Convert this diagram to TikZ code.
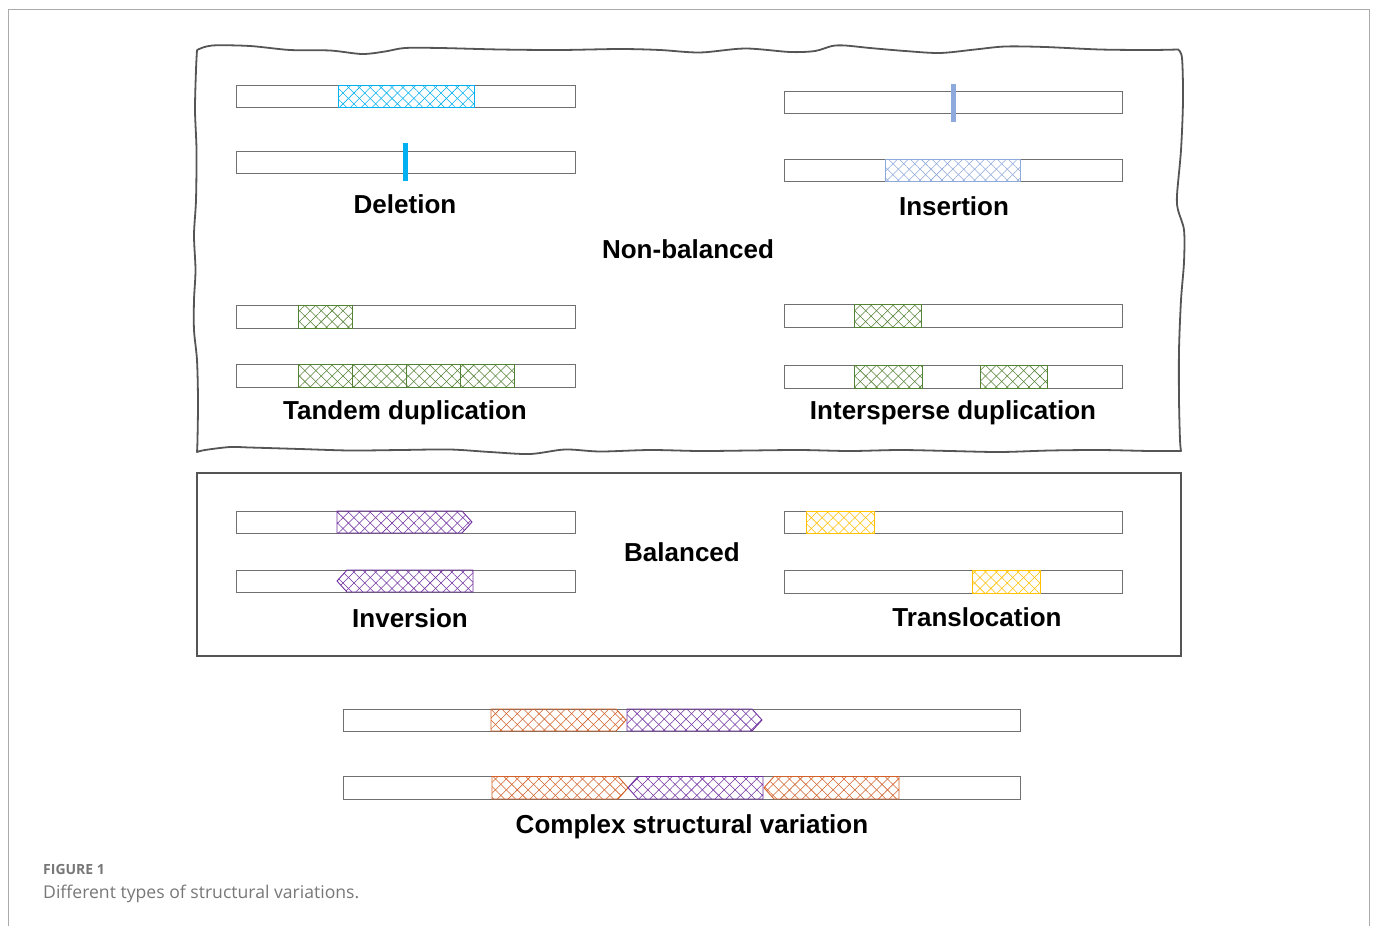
\documentclass[tikz,border=0pt]{standalone}
\usepackage{fontspec}
\setmainfont{Liberation Sans}
\newfontfamily\capfont{Open Sans}
\usetikzlibrary{patterns.meta}
\definecolor{barline}{HTML}{707070}
\definecolor{frameline}{HTML}{555555}
\definecolor{pageline}{HTML}{ABABAB}
\definecolor{delcol}{HTML}{00B0F0}
\definecolor{inscol}{HTML}{8EA9DB}
\definecolor{dupcol}{HTML}{548235}
\definecolor{invcol}{HTML}{7030A0}
\definecolor{trcol}{HTML}{FFC000}
\definecolor{orcol}{HTML}{D2622A}
\definecolor{captext}{HTML}{777777}
\tikzset{
  bar/.style={draw=barline, line width=1pt, fill=white},
  hatch/.style={draw=#1, line width=0.9pt,
    preaction={pattern={Lines[angle=45,distance=7.7pt,line width=0.55pt]}, pattern color=#1},
    pattern={Lines[angle=-45,distance=7.7pt,line width=0.55pt]}, pattern color=#1},
  svlabel/.style={font=\bfseries\fontsize{26}{30}\selectfont, inner sep=0pt, anchor=base},
  marker/.style={fill=#1, draw=none},
}
\begin{document}
\begin{tikzpicture}[x=1pt,y=-1pt]
\useasboundingbox (0,0) rectangle (1375,926);
% page border
\draw[pageline, line width=1.3pt] (8.5,926) -- (8.5,9.5) -- (1369.5,9.5) -- (1369.5,926);
% wavy frame
\draw[frameline, line width=1.8pt, line join=round] plot[smooth, tension=0.5] coordinates {
 (197,50) (212,45.5) (250,46) (290,50) (330,50.5) (362,54) (385,51.5) (405,48) (440,48) (500,49.5) (560,50) (620,49) (660,50) (700,52.5) (745,48.5) (790,52) (815,51) (832,46) (845,45.5) (870,48) (905,51) (940,53) (975,49.5) (1005,46.5) (1045,47) (1100,49.5) (1150,50) (1178,49.5)}
 -- plot[smooth, tension=0.5] coordinates {(1178,49.5) (1182,58) (1183,100) (1181,150) (1177,195) (1178,210) (1184,230) (1184,262) (1181,300) (1179,350) (1179,400) (1180,440) (1181,451)}
 -- plot[smooth, tension=0.5] coordinates {(1181,451) (1150,451) (1100,450) (1050,450.5) (1000,452) (950,451) (900,450) (850,451) (800,450) (750,450.5) (700,451) (650,450) (600,451.5) (565,449.5) (530,454) (490,452) (450,449.5) (400,450) (350,450.5) (300,449) (250,447.5) (230,447) (205,450) (197,452)}
 -- plot[smooth, tension=0.5] coordinates {(197,452) (197.5,440) (198,400) (197,360) (194,330) (194,300) (195.5,270) (194,235) (196,200) (196.5,150) (195,110) (196,70) (197,50)};
% balanced frame
\draw[frameline, line width=1.7pt] (197,473) rectangle (1181,656);

% ---------- Deletion ----------
\draw[bar] (236,85) rectangle (575,107);
\draw[hatch=delcol] (338,85) rectangle (474,107);
\draw[bar] (236,151) rectangle (575,173);
\fill[marker=delcol] (403,143) rectangle (408,181);
\node[svlabel] (del) at (405,213) {Deletion};

% ---------- Insertion ----------
\draw[bar] (784,91) rectangle (1122,113);
\fill[marker=inscol] (950.5,84) rectangle (955.5,122);
\draw[bar] (784,159) rectangle (1122,181);
\draw[hatch=inscol] (885,159) rectangle (1020,181);
\node[svlabel] (ins) at (954,215) {Insertion};

\node[svlabel] (nonbal) at (688,258) {Non-balanced};

% ---------- Tandem duplication ----------
\draw[bar] (236,305.5) rectangle (575,328);
\draw[hatch=dupcol] (298,305.5) rectangle (352,328);
\draw[bar] (236,364.5) rectangle (575,387);
\draw[hatch=dupcol] (298,364.5) rectangle (352,387);
\draw[hatch=dupcol] (352,364.5) rectangle (406,387);
\draw[hatch=dupcol] (406,364.5) rectangle (460,387);
\draw[hatch=dupcol] (460,364.5) rectangle (514,387);
\node[svlabel] (tan) at (405,419) {Tandem duplication};

% ---------- Interspersed duplication ----------
\draw[bar] (784,304.5) rectangle (1122,327);
\draw[hatch=dupcol] (854,304.5) rectangle (921,327);
\draw[bar] (784,365.5) rectangle (1122,388);
\draw[hatch=dupcol] (854,365.5) rectangle (922,388);
\draw[hatch=dupcol] (980,365.5) rectangle (1047,388);
\node[svlabel] (int) at (953,419) {Intersperse duplication};

% ---------- Inversion ----------
\draw[bar] (236,511) rectangle (575,533);
\draw[hatch=invcol] (337,511) -- (462,511) -- (472,522) -- (462,533) -- (337,533) -- cycle;
\draw[bar] (236,570) rectangle (575,592);
\draw[hatch=invcol] (473,570) -- (347,570) -- (337,581) -- (347,592) -- (473,592) -- cycle;
\node[svlabel] (inv) at (410,627) {Inversion};

\node[svlabel] (bal) at (682,561) {Balanced};

% ---------- Translocation ----------
\draw[bar] (784,511) rectangle (1122,533);
\draw[hatch=trcol] (806,511) rectangle (874,533);
\draw[bar] (784,570.5) rectangle (1122,593);
\draw[hatch=trcol] (972,570.5) rectangle (1040,593);
\node[svlabel] (tra) at (977,626) {Translocation};

% ---------- Complex ----------
\draw[bar] (343,709) rectangle (1020,731);
\draw[hatch=orcol] (491,709) -- (616,709) -- (626,720) -- (616,731) -- (491,731) -- cycle;
\draw[hatch=invcol] (627,709) -- (752,709) -- (762,720) -- (752,731) -- (627,731) -- cycle;
\draw[bar] (343,776.5) rectangle (1020,799);
\draw[hatch=orcol] (492,776.5) -- (618,776.5) -- (628,787.75) -- (618,799) -- (492,799) -- cycle;
\draw[hatch=invcol] (763,776.5) -- (638,776.5) -- (628,787.75) -- (638,799) -- (763,799) -- cycle;
\draw[hatch=orcol] (899,776.5) -- (774,776.5) -- (764,787.75) -- (774,799) -- (899,799) -- cycle;
\node[svlabel] (cpx) at (692,833) {Complex structural variation};

% ---------- Caption ----------
\node[font=\capfont\fontsize{14}{16}\selectfont\bfseries, text=captext, anchor=base west, inner sep=0pt] (fig) at (43,874) {FIGURE 1};
\node[font=\capfont\fontsize{17.6}{20}\selectfont, text=captext, anchor=base west, inner sep=0pt] (cap) at (43,898) {Different types of structural variations.};
\end{tikzpicture}
\end{document}
